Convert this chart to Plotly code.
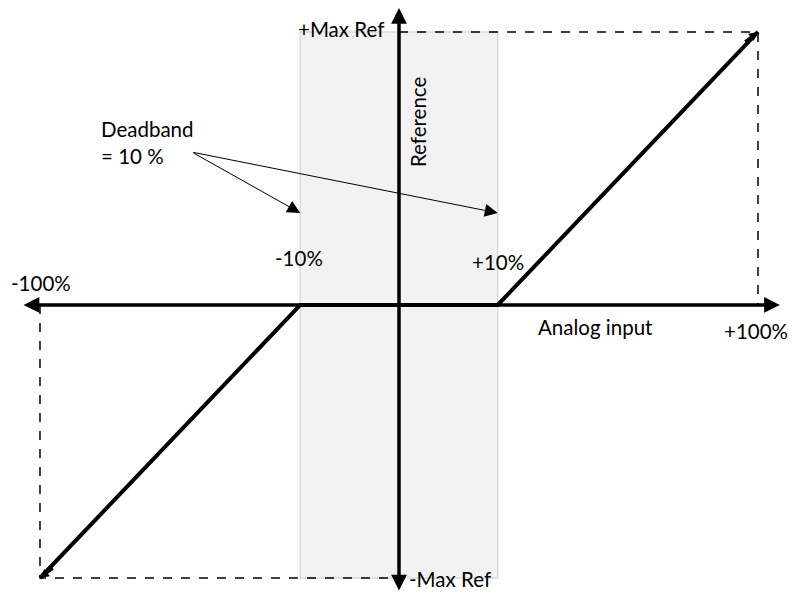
import plotly.graph_objects as go

# schematic positions (the deadband is drawn wider than to scale, as in the sketch)
input_pos = [-100, -27.5, 27.5, 100]
reference = [-100, 0, 0, 100]
deadband = [-27.5, 27.5]
max_ref = 100
full_in = 100

FONT = 'Lato, Calibri, sans-serif'
BLACK = '#000000'

fig = go.Figure()

# deadband shading
fig.add_shape(
    type='rect', xref='x', yref='y',
    x0=deadband[0], x1=deadband[1], y0=-max_ref, y1=max_ref,
    fillcolor='#f2f2f2', line=dict(color='#d9d9d9', width=1.5), layer='below'
)

# dashed guide boxes
fig.add_trace(go.Scatter(
    x=[0, full_in, full_in], y=[max_ref, max_ref, 0],
    mode='lines', line=dict(color=BLACK, width=1.5, dash='dash'),
    hoverinfo='skip', showlegend=False
))
fig.add_trace(go.Scatter(
    x=[-full_in, -full_in, 0], y=[0, -max_ref, -max_ref],
    mode='lines', line=dict(color=BLACK, width=1.5, dash='dash'),
    hoverinfo='skip', showlegend=False
))

# characteristic
fig.add_trace(go.Scatter(
    x=input_pos, y=reference,
    mode='lines', line=dict(color=BLACK, width=4),
    hoverinfo='skip', showlegend=False
))

annotations = []

# axes with arrows on both ends
annotations.append(dict(
    x=106.1, y=0, ax=-105.0, ay=0, xref='x', yref='y', axref='x', ayref='y',
    text='', showarrow=True, arrowhead=2, arrowside='end+start',
    arrowwidth=3.5, arrowsize=0.9, arrowcolor=BLACK
))
annotations.append(dict(
    x=0, y=108.8, ax=0, ay=-105.1, xref='x', yref='y', axref='x', ayref='y',
    text='', showarrow=True, arrowhead=2, arrowside='end+start',
    arrowwidth=3.5, arrowsize=0.9, arrowcolor=BLACK
))

# small arrow tips at the ends of the characteristic
annotations.append(dict(
    x=input_pos[-1], y=reference[-1], ax=input_pos[-1] - 4, ay=reference[-1] - 4,
    xref='x', yref='y', axref='x', ayref='y',
    text='', showarrow=True, arrowhead=2, arrowwidth=3, arrowsize=0.6, arrowcolor=BLACK
))
annotations.append(dict(
    x=input_pos[0], y=reference[0], ax=input_pos[0] + 4, ay=reference[0] + 4,
    xref='x', yref='y', axref='x', ayref='y',
    text='', showarrow=True, arrowhead=2, arrowwidth=3, arrowsize=0.6, arrowcolor=BLACK
))

# deadband pointers
for tip in deadband:
    annotations.append(dict(
        x=tip, y=33.7, ax=-57.7, ay=56.0, xref='x', yref='y', axref='x', ayref='y',
        text='', showarrow=True, arrowhead=2, arrowwidth=1, arrowsize=2.6,
        arrowcolor=BLACK
    ))

labels = [
    ('+Max Ref', -3.5, 101, 'right', 0),
    ('-Max Ref', 2.3, -100.5, 'left', 0),
    ('Deadband<br>= 10 %', -83.5, 59.5, 'left', 0),
    ('-10%', -27.9, 17.2, 'center', 0),
    ('+10%', 27.6, 15.8, 'center', 0),
    ('-100%', -99.7, 8.2, 'center', 0),
    ('Analog input', 54.6, -8.1, 'center', 0),
    ('+100%', 99.4, -9.5, 'center', 0),
    ('Reference', 5.3, 67, 'center', -90),
]
for text, x, y, anchor, angle in labels:
    annotations.append(dict(
        x=x, y=y, xref='x', yref='y', text=text, showarrow=False,
        xanchor=anchor, yanchor='middle', align='left', textangle=angle,
        font=dict(family=FONT, size=20.5, color=BLACK)
    ))

fig.update_layout(
    width=793, height=594,
    margin=dict(l=0, r=0, t=0, b=0),
    paper_bgcolor='white', plot_bgcolor='white',
    xaxis=dict(range=[-111.14, 109.75], visible=False, fixedrange=True),
    yaxis=dict(range=[-105.86, 111.7], visible=False, fixedrange=True),
    annotations=annotations,
    showlegend=False
)

fig.write_html(
    "out.html",
    config={'displayModeBar': False},
    post_script="document.body.style.margin = '0';"
)
